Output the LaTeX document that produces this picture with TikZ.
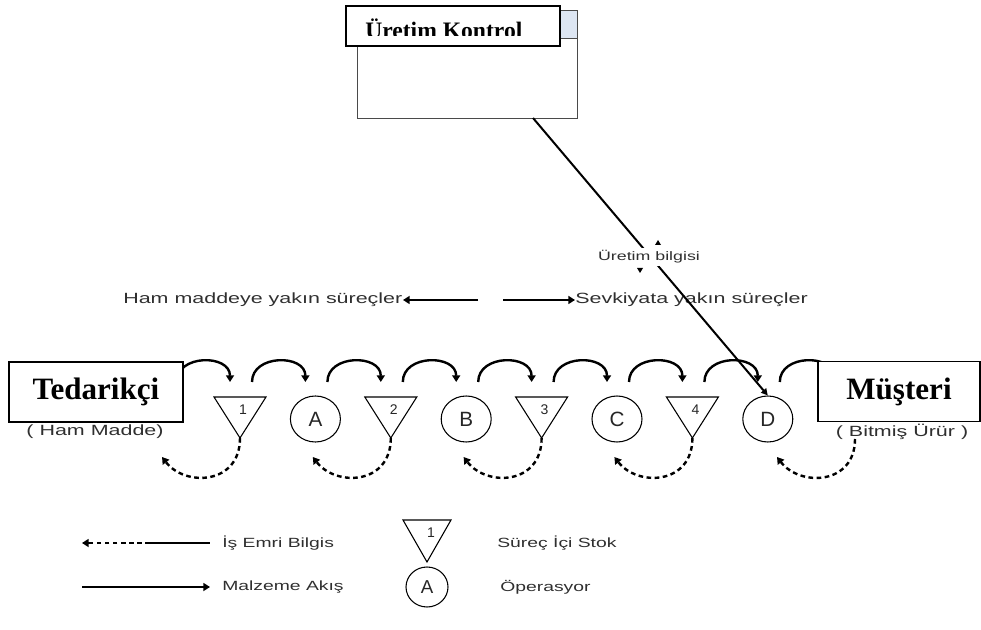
\documentclass[tikz,border=0pt]{standalone}
\usepackage{fontspec}
\setmainfont{Liberation Serif}
\newfontfamily\widesans[FakeStretch=1.45]{Liberation Sans}
\newfontfamily\plainsans{Liberation Sans}
\usetikzlibrary{arrows.meta,shapes.geometric}
\definecolor{labelgray}{HTML}{2F2F2F}
\definecolor{tabblue}{HTML}{DDE6F3}
\definecolor{framegray}{HTML}{4A4A4A}

\begin{document}
\begin{tikzpicture}[x=0.75pt,y=-0.75pt,
  lbl/.style={text=labelgray,inner sep=0pt,font=\widesans\fontsize{11.1}{13}\selectfont},
  smalllbl/.style={lbl,font=\widesans\fontsize{9.2}{11}\selectfont},
  legendlbl/.style={lbl,font=\widesans\fontsize{10}{12}\selectfont},
  partybox/.style={draw=black,line width=1.1pt,fill=white,minimum height=45pt,inner sep=0pt,
    font=\bfseries\fontsize{23.3}{26}\selectfont},
  opnode/.style={ellipse,draw=black,line width=0.8pt,minimum width=37.5pt,minimum height=34.5pt,
    inner sep=0pt,text=black!85,font=\plainsans\fontsize{15.5}{17}\selectfont},
  stockline/.style={draw=black,line width=0.8pt,line join=miter},
  stocknum/.style={text=black!85,inner sep=0pt,font=\plainsans\fontsize{10.5}{12}\selectfont},
  flow/.style={line width=1.8pt,-{Triangle[length=5pt,width=6pt]}},
  order/.style={line width=1.8pt,dash pattern=on 3.5pt off 2.6pt,-{Triangle[length=5pt,width=6pt]}},
  ]
\useasboundingbox (0,0) rectangle (981,630);

% ---- production control window ----
\node[draw=framegray,line width=1.1pt,fill=white,minimum width=165pt,minimum height=81pt,
  inner sep=0pt,anchor=north west] (ctrl) at (357,10) {};
\node[draw=framegray,line width=0.9pt,fill=tabblue,minimum width=13.5pt,minimum height=21pt,
  inner sep=0pt,anchor=north west] (tab) at (559,10) {};
\node[draw=black,line width=1.3pt,fill=white,minimum width=160.5pt,minimum height=30pt,
  inner sep=0pt,anchor=north west] (hdr) at (345,5) {};
\begin{scope}
  \clip (346,6) rectangle (558,36);
  \node[anchor=base west,inner sep=0pt,font=\bfseries\fontsize{17.7}{20}\selectfont]
    (ctrltitle) at (365,38.3) {Üretim Kontrol};
\end{scope}
\coordinate (ctrlout) at (533,118);

% ---- direction labels ----
\node[lbl,anchor=west] (rawlbl) at (123,300) {Ham maddeye yakın süreçler};
\node[lbl,anchor=west] (shiplbl) at (575,300) {Sevkiyata yakın süreçler};
\coordinate (rawtail) at (478,300);
\coordinate (rawtip) at (403,300);
\coordinate (shiptail) at (503,300);
\coordinate (shiptip) at (575,300);
\draw[line width=2.2pt,-{Triangle[length=5pt,width=6pt]}] (rawtail) -- (rawtip);
\draw[line width=2.2pt,-{Triangle[length=5pt,width=6pt]}] (shiptail) -- (shiptip);

% ---- material flow arcs along the line ----
\foreach \k in {0,...,8}{
  \pgfmathsetmacro\xs{164.6+75.4*\k+12}
  \pgfmathsetmacro\xe{164.6+75.4*(\k+1)-10}
  \coordinate (fs\k) at (\xs,382);
  \coordinate (fe\k) at (\xe,382);
  \draw[flow] (fs\k) .. controls (\xs,354) and (\xe,354) .. (fe\k);
}

% ---- in-process stock triangles ----
\foreach \c/\n in {240/1,390.8/2,541.6/3,692.4/4}{
  \draw[stockline] (\c-26,397) -- (\c+26,397) -- (\c,438) -- cycle;
  \coordinate (t\n) at (\c,438);
  \node[stocknum] (tn\n) at (\c+3,410) {\n};
}

% ---- operations ----
\node[opnode] (A) at (315.4,419) {A};
\node[opnode] (B) at (466.2,419) {B};
\node[opnode] (C) at (617.0,419) {C};
\node[opnode] (D) at (767.8,419) {D};

% ---- work order return arcs ----
\coordinate (t5) at (855,439);
\foreach \s/\n in {240/1,390.8/2,541.6/3,692.4/4,855/5}{
  \pgfmathsetmacro\xa{\s-55}
  \pgfmathsetmacro\xt{\s-78}
  \coordinate (r\n) at (\xt,457);
  \draw[order] (t\n) .. controls (\s,485) and (\xa,487) .. (r\n);
}

% ---- supplier and customer ----
\node[partybox,minimum width=130.5pt] (sup) at (96,392) {Tedarikçi};
\node[partybox,minimum width=121.5pt] (cus) at (899,391.5) {Müşteri\hspace{8pt}};
\node[lbl] (suplbl) at (95,432) {( Ham Madde)};
\node[lbl] (cuslbl) at (902,432) {( Bitmiş Ürür )};

% ---- production information link ----
\draw[line width=1.5pt,-{Triangle[length=5pt,width=5pt]}] (ctrlout) -- (D.north);
\node[smalllbl,fill=white,inner xsep=1pt,inner ysep=2pt] (infolbl) at (649,257) {Üretim bilgisi};
\fill[black] (655,245) -- (661,245) -- (658,240) -- cycle;
\fill[black] (637,268) -- (643,268) -- (640,273) -- cycle;

% ---- legend ----
\coordinate (lgmid) at (150,543);
\coordinate (lgtip) at (82,543);
\coordinate (lgend) at (210,543);
\draw[order] (lgmid) -- (lgtip);
\draw[line width=1.8pt] (lgmid) -- (lgend);
\node[legendlbl,anchor=west] (lgorder) at (222,543) {İş Emri Bilgis};

\coordinate (lgfs) at (82,587);
\coordinate (lgfe) at (210,587);
\draw[flow] (lgfs) -- (lgfe);
\node[legendlbl,anchor=west] (lgflow) at (222,587) {Malzeme Akış};

\draw[stockline] (403,520) -- (451,520) -- (427,562) -- cycle;
\node[stocknum] (lgnum) at (431,533) {1};
\node[legendlbl,anchor=west] (lgstock) at (497,543) {Süreç İçi Stok};

\node[opnode,minimum width=31.5pt,minimum height=30pt,font=\plainsans\fontsize{14}{16}\selectfont]
  (lgop) at (427,587) {A};
\node[legendlbl,anchor=west] (lgoplbl) at (500,587) {Öperasyor};
\end{tikzpicture}
\end{document}
